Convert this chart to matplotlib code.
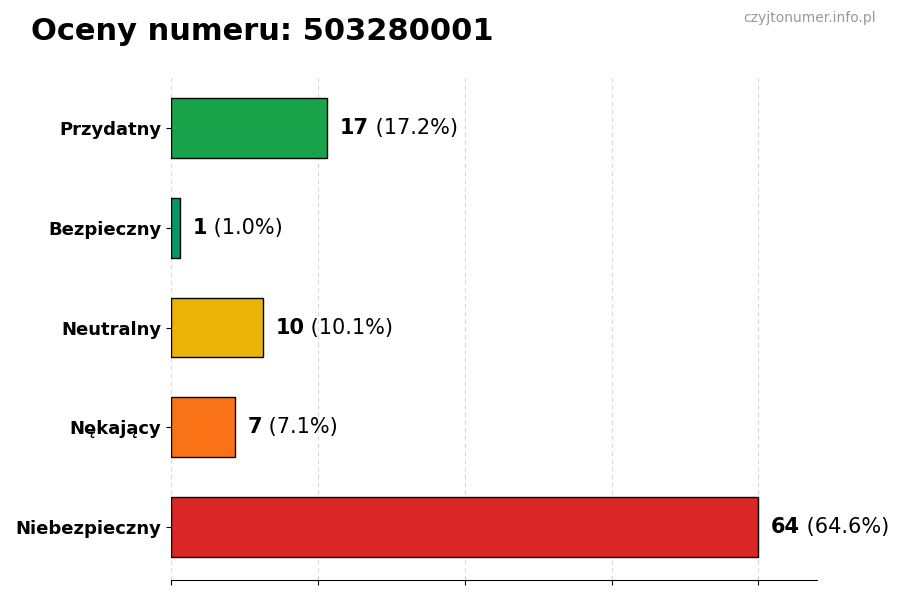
import matplotlib
matplotlib.use("Agg")
import matplotlib.pyplot as plt

categories = ["Przydatny", "Bezpieczny", "Neutralny", "Nękający", "Niebezpieczny"]
counts = [17, 1, 10, 7, 64]
colors = ["#16a34a", "#059669", "#eab308", "#f97316", "#dc2626"]
title = "Oceny numeru: 503280001"
watermark = "czyjtonumer.info.pl"

total = sum(counts)

fig = plt.figure(figsize=(9, 6), dpi=100)
ax = fig.add_axes([0.19, 0.0333, 0.718, 0.8417])

ypos = list(range(len(categories)))[::-1]
ax.barh(ypos, counts, height=0.6, color=colors, edgecolor="black", linewidth=1, zorder=2)
ax.set_yticks(ypos)
ax.set_yticklabels(categories, fontsize=13, fontweight="bold")
ax.set_xlim(0, max(counts) * 1.1)
ax.set_xticks([0, 16, 32, 48, 64])
ax.set_xticklabels([])
ax.grid(axis="x", linestyle=(0, (4, 3)), color="#d9d9d9", linewidth=0.8, zorder=0)
ax.set_axisbelow(True)
for s in ["top", "right", "left"]:
    ax.spines[s].set_visible(False)

for y, c in zip(ypos, counts):
    t = ax.annotate(str(c), xy=(c, y), xytext=(9, 0), textcoords="offset points",
                    va="center", ha="left", fontsize=15, fontweight="bold")
    ax.annotate(f" ({c / total * 100:.1f}%)", xy=(1, 0), xycoords=t,
                va="bottom", ha="left", fontsize=15)

fig.text(0.034, 0.948, title, fontsize=22, fontweight="bold", va="center", ha="left")
fig.text(0.973, 0.97, watermark, fontsize=10, color="#999999", va="center", ha="right")

fig.savefig("out.png", dpi=100)
